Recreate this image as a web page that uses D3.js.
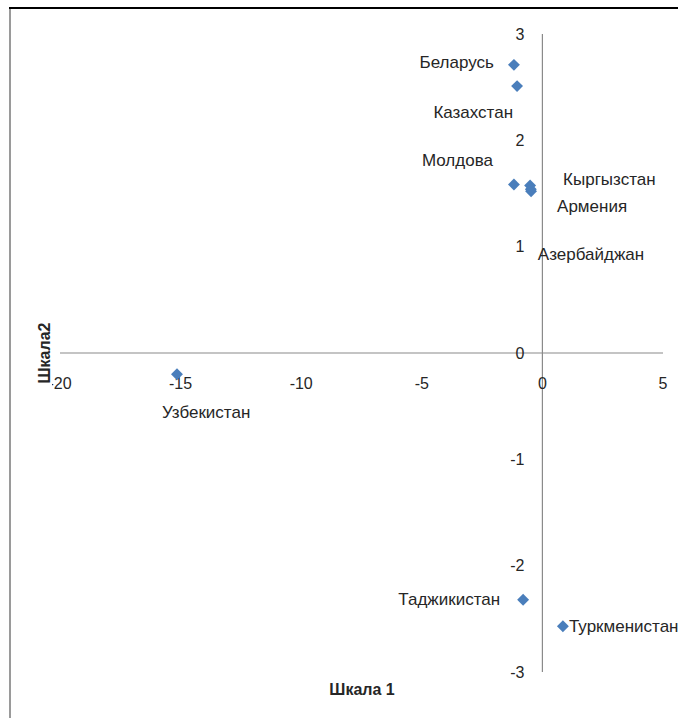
<!DOCTYPE html>
<html>
<head>
<meta charset="utf-8">
<script src="https://cdn.jsdelivr.net/npm/d3@7"></script>
<style>
  html, body { margin: 0; padding: 0; background: #fff; }
  svg { display: block; }
  text { font-family: "Liberation Sans", Arial, sans-serif; fill: #262626; }
</style>
</head>
<body>
<svg id="chart" width="678" height="718"></svg>
<script>
// Countries and their coordinates on the two scales
const countries = ["Беларусь", "Казахстан", "Молдова", "Кыргызстан", "Армения",
                   "Азербайджан", "Узбекистан", "Таджикистан", "Туркменистан"];
const scale1 = [-1.18, -1.05, -1.18, -0.51, -0.47, -0.48, -15.15, -0.80, 0.85];
const scale2 = [2.71, 2.51, 1.585, 1.575, 1.52, 1.54, -0.20, -2.32, -2.57];

const xTicks = [-20, -15, -10, -5, 0, 5];
const yTicks = [-3, -2, -1, 0, 1, 2, 3];

// Label placement relative to each marker: [dx, dy, anchor]
const labelPlacement = [
  [-20, -2, "end"], [-4, 26, "end"], [-21, -24, "end"],
  [33, -6, "start"], [26, 15, "start"], [7, 65, "start"],
  [-15, 38, "start"], [-23, 0, "end"], [6, 0, "start"]
];

const svg = d3.select("#chart");

// frame lines
svg.append("line").attr("x1", 9).attr("x2", 678).attr("y1", 8).attr("y2", 8)
  .attr("stroke", "#000").attr("stroke-width", 2);
svg.append("line").attr("x1", 10).attr("x2", 10).attr("y1", 9).attr("y2", 718)
  .attr("stroke", "#9a9a9a").attr("stroke-width", 2);

const x = d3.scaleLinear().domain([-20, 5]).range([60, 663]);
const y = d3.scaleLinear().domain([-3, 3]).range([672, 34]);

// axes crossing at the origin
const axisColor = "#8a8a8a";
svg.append("line").attr("x1", x(-20)).attr("x2", x(5)).attr("y1", y(0)).attr("y2", y(0))
  .attr("stroke", axisColor).attr("stroke-width", 1.2);
svg.append("line").attr("x1", x(0)).attr("x2", x(0)).attr("y1", y(3)).attr("y2", y(-3))
  .attr("stroke", axisColor).attr("stroke-width", 1.2);

// tick labels
svg.append("g").selectAll("text").data(xTicks).join("text")
  .attr("x", d => x(d)).attr("y", y(0) + 30)
  .attr("text-anchor", "middle").attr("dominant-baseline", "central")
  .attr("font-size", 16).text(d => d);
svg.append("g").selectAll("text").data(yTicks).join("text")
  .attr("x", x(0) - 18).attr("y", d => y(d))
  .attr("text-anchor", "end").attr("dominant-baseline", "central")
  .attr("font-size", 16).text(d => d);

// markers
const points = countries.map((c, i) => ({ name: c, sx: scale1[i], sy: scale2[i], lp: labelPlacement[i] }));
const diamond = d3.symbol().type(d3.symbolDiamond2).size(90);
svg.append("g").selectAll("path").data(points).join("path")
  .attr("d", diamond)
  .attr("transform", d => `translate(${x(d.sx)},${y(d.sy)})`)
  .attr("fill", "#4a7ebb");

// data labels
svg.append("g").selectAll("text").data(points).join("text")
  .attr("x", d => x(d.sx) + d.lp[0]).attr("y", d => y(d.sy) + d.lp[1])
  .attr("text-anchor", d => d.lp[2]).attr("dominant-baseline", "central")
  .attr("font-size", 17).text(d => d.name);

// axis titles
const yTitle = svg.append("g").attr("transform", `translate(44,${y(0)}) rotate(-90)`);
yTitle.append("rect").attr("x", -37).attr("y", -8).attr("width", 74).attr("height", 16).attr("fill", "#fff");
yTitle.append("text").attr("text-anchor", "middle").attr("dominant-baseline", "central")
  .attr("font-size", 16).attr("font-weight", "bold").text("Шкала2");

svg.append("text").attr("x", 362).attr("y", 689)
  .attr("text-anchor", "middle").attr("dominant-baseline", "central")
  .attr("font-size", 16).attr("font-weight", "bold").text("Шкала 1");
</script>
</body>
</html>
